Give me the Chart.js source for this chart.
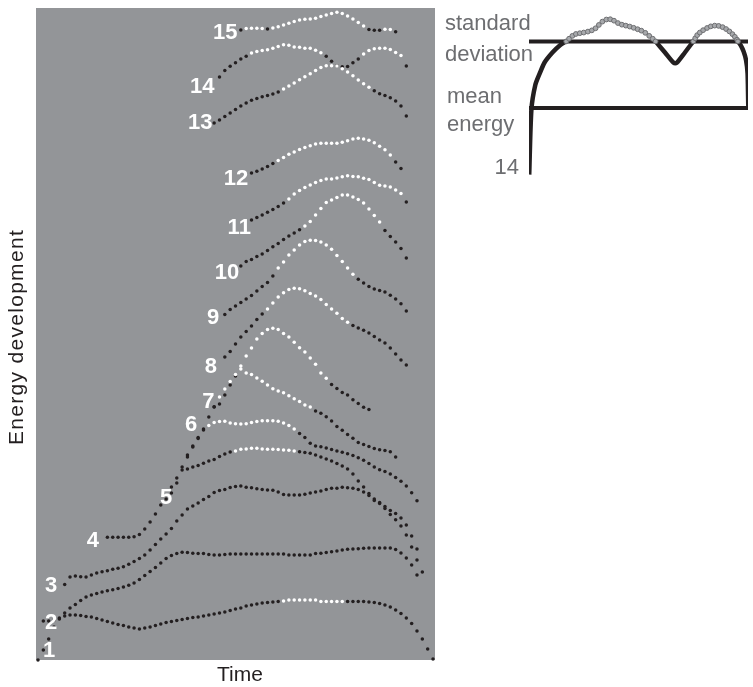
<!DOCTYPE html>
<html>
<head>
<meta charset="utf-8">
<title>Energy development</title>
<script src="https://cdn.jsdelivr.net/npm/chart.js@4.4.1/dist/chart.umd.min.js"></script>
<style>
  html, body { margin: 0; padding: 0; background: #ffffff; }
  #wrap { position: relative; width: 753px; height: 687px; overflow: hidden; }
  #main { position: absolute; left: 0; top: 0; width: 440px; height: 687px; }
  #inset { position: absolute; left: 436px; top: 0; width: 317px; height: 200px; }
</style>
</head>
<body>
<div id="wrap">
  <canvas id="main" width="440" height="687"></canvas>
  <canvas id="inset" width="317" height="200"></canvas>
</div>
<script>
// ---- Energy traces: one value per time step, each trace begins at its own step ----
const curveStart = [0, 1, 5, 13, 25, 28, 33, 35, 35, 38, 40, 40, 33, 34, 38];

const curve1 = [0, 10, 21, 33, 41, 44, 45, 45, 44.5, 43.5, 43, 41.5, 40, 38.5, 37, 35.5, 34.5, 33, 32, 31,
  32, 33, 34.5, 36, 37.5, 38.5, 39.5, 40.5, 41.5, 42.5, 43, 44, 45, 46, 47, 48, 49.5, 51, 52, 54,
  55, 56, 57, 57.5, 58, 58.5, 59, 60, 60, 60, 60, 60, 60, 58.5, 58.5, 58.5, 58.5, 58.5, 58.5, 58.5,
  58.5, 58.5, 58, 57.5, 56.5, 55, 53, 50, 46.5, 42, 36.5, 29, 21, 11, 1];
const curve2 = [39, 39, 40, 42, 47, 52, 55.5, 59.5, 63, 65, 66.5, 68, 69.3, 70.3, 71.5, 73, 74.7, 77, 80.5, 84.5,
  88.5, 92.5, 97, 101.5, 104.5, 106.5, 107.7, 107.5, 106.7, 106.5, 106.5, 105.5, 105, 105, 105.5,
  106, 106, 106, 106, 106, 106, 106, 106, 106, 106, 106, 105, 105, 105, 105, 105,
  106.5, 106.7, 107.5, 108.3, 109, 110, 110.7, 111, 111.3, 111.7, 112, 112, 112, 112, 112,
  110.5, 107, 102, 95, 85];
const curve3 = [75.5, 83, 84, 83.3, 83, 85, 87, 88.3, 89.3, 90.7, 91.7, 93.3, 95.7, 98.5, 101.5, 105, 110, 115.5, 121, 126,
  131.5, 139, 145, 151, 154, 157, 160.5, 163.5, 167.5, 169.5, 170.5, 172.5, 173.5, 174, 172.7, 172.2, 171.2, 170.5, 170, 169.7,
  168, 165.5, 165, 165, 165, 165.7, 167, 168, 169, 170.5, 171.7, 171.7, 172.7, 172.3, 171.7, 170.5, 168, 164.5, 159.5, 156.5,
  151.5, 145.5, 140.2, 134, 125, 113, 100, 88];
const curve4 = [122.7, 122.7, 122.7, 122.7, 122.7, 123.3, 125.5, 131, 138, 146, 155, 161, 167, 177, 190, 191, 193, 194.5, 196.7, 199,
  200.5, 203.5, 206, 208, 209, 210.7, 211, 211.7, 211.7, 211, 210.7, 210.7, 210.5, 210, 209.7, 209, 208.3, 207.5, 206.7, 205,
  203, 201, 199, 196.5, 194, 191, 186, 179, 173, 166.5, 161, 157.5, 153.5, 149.5, 146.5, 142, 135, 124, 111];
const curve5 = [173, 182, 193, 203, 213, 221.5, 230, 234.5, 237.5, 238.5, 238.7, 237, 236.3, 236, 236.3, 237.5, 238.5, 239.3, 239.3, 239.3,
  238.7, 237, 234.5, 231, 226.5, 222.5, 216.7, 214, 213.2, 212, 210.4, 209, 207.7, 206.3, 204.5, 202.3, 199.8, 196.5, 193, 190.3,
  188.5, 186, 182.5, 178.7, 174, 167.3, 159.3];
const curve6 = [205, 214, 222.5, 231, 243, 253.3, 263, 271, 278.5, 285.5, 291, 287, 285.5, 282, 278.7, 275, 271.3, 269, 267.3, 264.2,
  261.2, 258.5, 255, 253, 249, 246.8, 243.3, 239, 233.5, 229.8, 225.6, 221.8, 217.5, 215.4, 213.4, 211.5, 210.3, 209.6, 208.3, 203];
const curve7 = [253, 256, 265, 275, 284, 294, 304, 312, 321, 326.5, 330.5, 331.7, 330.5, 326.5, 323, 317.7, 312.3, 308, 302, 295.7,
  287, 281.7, 275.5, 271.5, 267.6, 265, 260.3, 256.4, 252.8, 250.5];
const curve8 = [303, 308.5, 316, 323, 328.5, 334, 340.5, 346, 351, 357, 363, 367.3, 370.5, 371.7, 371.3, 369.3, 366.5, 364, 360.5, 355.5,
  351, 346.7, 341.5, 337.7, 334.5, 332, 329.7, 327, 323.5, 320, 317, 312, 306, 300, 295];
const curve9 = [345.5, 350.5, 354, 357.5, 361, 364.5, 369, 373.5, 377.5, 384, 392, 398, 405, 410, 415, 418.5, 419.8, 419.5, 418, 415,
  410.7, 404.5, 398.5, 392, 385.7, 380.7, 377, 373.5, 371, 369.6, 368, 364.7, 361, 356.2, 349];
const curve10 = [394, 398.5, 400.5, 403.5, 406, 409.5, 413.3, 416.5, 420.5, 424, 427, 430.3, 434, 438.5, 445, 451.5, 457.5, 460, 462.5, 465,
  465, 463, 460.5, 457, 451, 444.5, 438, 429.5, 423.5, 418, 411.5, 402];
const curve11 = [440, 442.5, 445, 447.7, 450.5, 453.5, 457, 461, 466, 469.5, 472.5, 475, 477.5, 479.5, 481, 481, 482, 483.3, 484.3, 483.5,
  483.3, 481.7, 480.5, 477.5, 474.7, 474, 473, 470, 466.5, 458];
const curve12 = [487, 488.8, 491, 493.5, 496.5, 499.5, 502.5, 505.7, 508, 510.4, 512.6, 514.3, 516, 516.7, 516.7, 516.7, 516.8, 517.7, 519.2, 521,
  521.7, 521, 519.7, 517.2, 513.7, 510.2, 505, 498, 491.5];
const curve13 = [537, 540, 543.5, 547, 550.5, 554, 557, 559.7, 561.5, 563.3, 564.6, 566, 568, 571, 574, 577, 580.3, 583.2, 586.3, 589.6,
  592.5, 594.3, 594.3, 594, 591.3, 588, 584.2, 580, 576.2, 572.7, 569.3, 566.3, 564.4, 562.2, 559, 554, 544];
const curve14 = [583, 589.5, 593.7, 597.3, 601, 603.8, 607, 608.6, 609.5, 610.3, 611.8, 613.5, 615.2, 614.7, 613, 612.7, 611.7, 611.7, 609.8, 607.2,
  603.7, 598.7, 594.3, 593.3, 593.5, 597.3, 601, 606, 609.5, 611.2, 611.7, 611.7, 610.5, 607.5, 604.5, 594];
const curve15 = [630, 631.5, 631.7, 631.7, 631.5, 631, 632, 633.3, 635, 636.8, 638.5, 640, 640.7, 641, 641.7, 643.5, 645, 646.5, 647.7, 646.6,
  644, 641, 637.5, 634, 630.5, 629.7, 629.7, 630.7, 630.5, 628.3];

// Time steps (inclusive ranges) where a trace lies above its standard deviation
const brightSpans = [
  [[46, 57]], [], [], [[37, 48]], [[32, 48]], [[34, 51]], [[38, 54]], [[43, 58]],
  [[45, 59]], [[50, 64]], [[47, 68]], [[45, 66]], [[46, 62]], [[40, 53], [61, 68]],
  [[39, 42], [44, 61], [65, 66]]
];

// Trace numbers and where they are written (time step, energy)
const curveNames = ['1', '2', '3', '4', '5', '6', '7', '8', '9', '10', '11', '12', '13', '14', '15'];
const labelTime = [2.06, 2.44, 2.44, 10.3, 24.0, 28.7, 31.9, 32.4, 32.8, 35.4, 37.7, 37.1, 30.4, 30.75, 35.1];
const labelEnergy = [10, 38, 75, 120, 163, 236, 259, 294, 343, 388, 433, 482, 538, 574, 628];

// Axis captions
const xCaption = 'Time';
const yCaption = 'Energy development';

// ---- Close-up of trace 14 ----
const insetTime = [0.1, 1.1, 2.9, 4.9, 7.1, 10.7, 14.3, 17.0,
  18.3, 19.8, 21.4, 23.2, 25.0, 26.9, 28.7, 30.4, 31.9, 33.5, 35.3, 37.1, 38.8, 40.6, 42.4, 44.2, 46.0, 47.8, 49.6, 51.3, 53.1, 54.9, 56.5, 57.8,
  62.1, 66.1, 67.4, 71.2, 75.0,
  75.9, 76.8, 78.0, 79.5, 81.3, 83.0, 84.8, 86.6, 88.4, 90.0, 91.5, 92.9, 94.0, 95.0, 95.4,
  96.7, 98.0, 99.1, 99.8, 100.2, 100.9];
const insetLevel = [21.5, 90, 116, 128, 139.5, 150, 158, 161.7,
  164.5, 167.5, 169.5, 170.3, 171, 172, 173.3, 175.5, 179, 182.5, 184.7, 185, 183.5, 181, 179.3, 178.3, 177.3, 176, 174.5, 173, 170.7, 167.5, 164.5, 161.7,
  150, 139, 139, 150, 161.7,
  165, 168.3, 171, 173.5, 175.8, 177.5, 178.3, 178, 176.7, 174.7, 172.2, 169.3, 166.5, 163.5, 161.7,
  157.5, 151, 142, 128, 90, 20];
const insetSd = 161.7;
const insetMean = 91.7;

// ---- Styling ----
const INK = '#231f20';
const PLOT_GREY = '#939598';
const LABEL_FONT = '"Liberation Sans", Arial, Helvetica, sans-serif';

const curves = [curve1, curve2, curve3, curve4, curve5, curve6, curve7, curve8,
  curve9, curve10, curve11, curve12, curve13, curve14, curve15];

function isBright(k, t) {
  return brightSpans[k].some(([a, b]) => t >= a && t <= b);
}

const plotBackground = {
  id: 'plotBackground',
  beforeDraw(chart) {
    const { ctx, chartArea: a } = chart;
    ctx.save();
    ctx.fillStyle = PLOT_GREY;
    ctx.fillRect(a.left, a.top, a.right - a.left, a.bottom - a.top);
    ctx.restore();
  }
};

// Axis captions: the vertical one is set a little wider than the font's natural spacing
const axisCaptions = {
  id: 'axisCaptions',
  afterDraw(chart) {
    const { ctx, chartArea: a } = chart;
    ctx.save();
    ctx.fillStyle = INK;
    ctx.font = '21px ' + LABEL_FONT;
    ctx.textAlign = 'center';
    ctx.textBaseline = 'middle';
    ctx.fillText(xCaption, (a.left + a.right) / 2 + 4.5, a.bottom + 15);
    ctx.translate(a.left - 18.5, (a.top + a.bottom) / 2 + 3);
    ctx.rotate(-Math.PI / 2);
    if ('letterSpacing' in ctx) ctx.letterSpacing = '1.3px';
    ctx.fillText(yCaption, 0, 0);
    ctx.restore();
  }
};

const traceNumbers = {
  id: 'traceNumbers',
  afterDatasetsDraw(chart) {
    const { ctx, scales } = chart;
    ctx.save();
    ctx.font = 'bold 22px ' + LABEL_FONT;
    ctx.fillStyle = '#ffffff';
    ctx.textAlign = 'center';
    ctx.textBaseline = 'middle';
    curveNames.forEach((name, k) => {
      ctx.fillText(name, scales.x.getPixelForValue(labelTime[k]), scales.y.getPixelForValue(labelEnergy[k]) + 1);
    });
    ctx.restore();
  }
};

const datasets = curves.map((vals, k) => ({
  label: 'Trace ' + curveNames[k],
  data: vals.map((v, i) => ({ x: curveStart[k] + i, y: v })),
  showLine: false,
  pointRadius: 1.75,
  pointBorderWidth: 0,
  pointBackgroundColor: vals.map((v, i) => isBright(k, curveStart[k] + i) ? '#ffffff' : INK),
  pointBorderColor: vals.map((v, i) => isBright(k, curveStart[k] + i) ? '#ffffff' : INK),
  clip: false
}));

new Chart(document.getElementById('main'), {
  type: 'line',
  data: { datasets },
  options: {
    responsive: false,
    animation: false,
    events: [],
    layout: { padding: { left: 36, right: 5, top: 8, bottom: 27 } },
    plugins: { legend: { display: false }, tooltip: { enabled: false } },
    scales: {
      x: { type: 'linear', min: -0.375, max: 74.375, display: false },
      y: { type: 'linear', min: 0, max: 652, display: false }
    }
  },
  plugins: [plotBackground, traceNumbers, axisCaptions]
});

// ---- Close-up chart ----
const insetText = {
  id: 'insetText',
  afterDraw(chart) {
    const { ctx, scales } = chart;
    const sdY = scales.y.getPixelForValue(insetSd);
    const meanY = scales.y.getPixelForValue(insetMean);
    const startY = scales.y.getPixelForValue(insetLevel[0]);
    ctx.save();
    ctx.font = '22px ' + LABEL_FONT;
    ctx.fillStyle = '#6d6e71';
    ctx.textBaseline = 'alphabetic';
    ctx.textAlign = 'left';
    ctx.fillText('standard', 9, sdY - 11);
    ctx.fillText('deviation', 9, sdY + 20);
    ctx.fillText('mean', 11, meanY - 5);
    ctx.fillText('energy', 11, meanY + 23.5);
    ctx.textAlign = 'right';
    ctx.fillText('14', 83, startY - 1);
    ctx.restore();
  }
};

const eps = 0.01;
new Chart(document.getElementById('inset'), {
  type: 'line',
  data: {
    datasets: [
      {
        label: 'above standard deviation',
        data: insetTime.map((t, i) => ({ x: t, y: insetLevel[i] >= insetSd - eps ? insetLevel[i] : null })),
        showLine: false,
        pointRadius: 2.4,
        pointBorderWidth: 1,
        pointBackgroundColor: '#a7a9ac',
        pointBorderColor: '#6d6e71',
        order: 0
      },
      {
        label: 'trace 14',
        data: insetTime.map((t, i) => ({ x: t, y: insetLevel[i] <= insetSd + eps ? insetLevel[i] : null })),
        borderColor: INK,
        borderWidth: 4.5,
        borderJoinStyle: 'round',
        pointRadius: 0,
        spanGaps: false,
        tension: 0.25,
        order: 1
      },
      {
        label: 'standard deviation',
        data: [{ x: 0, y: insetSd }, { x: 100, y: insetSd }],
        borderColor: INK, borderWidth: 4, pointRadius: 0, order: 2
      },
      {
        label: 'mean energy',
        data: [{ x: 0, y: insetMean }, { x: 100, y: insetMean }],
        borderColor: INK, borderWidth: 4, pointRadius: 0, order: 2
      }
    ]
  },
  options: {
    responsive: false,
    animation: false,
    events: [],
    layout: { padding: { left: 93, right: 0, top: 0, bottom: 0 } },
    plugins: { legend: { display: false }, tooltip: { enabled: false } },
    scales: {
      x: { type: 'linear', min: 0, max: 100, display: false },
      y: { type: 'linear', min: 0, max: 200, display: false }
    }
  },
  plugins: [insetText]
});
</script>
</body>
</html>
